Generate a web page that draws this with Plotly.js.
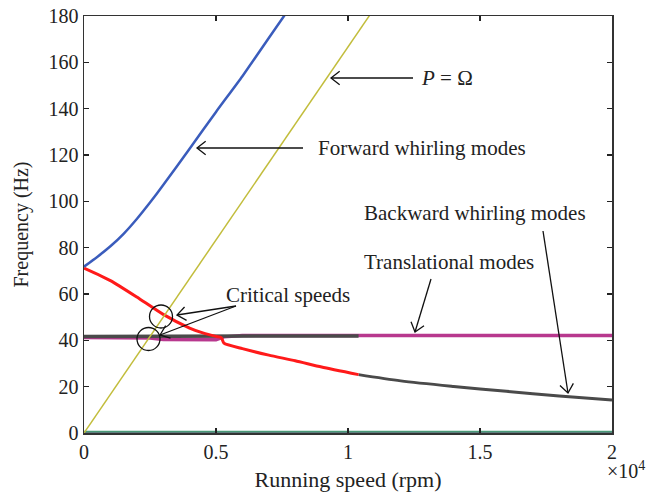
<!DOCTYPE html>
<html>
<head>
<meta charset="utf-8">
<script src="https://cdn.plot.ly/plotly-3.0.1.min.js"></script>
<style>html,body{margin:0;padding:0;background:#fff;}#chart{width:666px;height:498px;}</style>
</head>
<body>
<div id="chart"></div>
<script>
// ---- data (rpm, Hz) ----
const fwdRpm = [0, 500, 1000, 1500, 2000, 2500, 3000, 4000, 5000, 6000, 7000, 7700];
const fwdHz  = [71.8, 76.0, 80.6, 86.0, 92.4, 99.5, 107.0, 122.7, 138.6, 154.0, 170.5, 182.0];

const bwdRedRpm = [0, 1000, 2000, 3000, 4000, 4500, 5000, 5200, 5300, 6000, 7000, 8000, 9000, 10400];
const bwdRedHz  = [71.2, 65.8, 58.7, 51.2, 45.3, 43.2, 41.7, 41.2, 38.8, 36.4, 33.6, 31.2, 28.5, 25.2];

const bwdGrayRpm = [10400, 12000, 14000, 16000, 18000, 20000];
const bwdGrayHz  = [25.2, 22.5, 20.1, 18.0, 16.0, 14.2];

const transGrayRpm = [0, 5000, 6800, 7000, 7700, 7900, 10400];
const transGrayHz  = [41.7, 41.8, 41.9, 42.2, 42.2, 41.9, 41.9];

const transMagRpm = [0, 2500, 3000, 5000, 5300, 6000, 10400, 20000];
const transMagHz  = [41.2, 41.0, 40.4, 40.2, 41.5, 42.1, 42.1, 42.1];

const zeroGreenRpm = [0, 20000];
const zeroGreenHz  = [0.55, 0.55];
const zeroMagRpm = [0, 20000];
const zeroMagHz  = [0, 0];

const lineRpm = [0, 20000];
const lineHz  = [0, 333.3];   // P = Omega (rpm/60)

const xTickVals = [0, 5000, 10000, 15000, 20000];
const xTickText = ['0', '0.5', '1', '1.5', '2'];

// ---- geometry helpers ----
const W = 666, H = 498, ML = 84, MR = 54, MT = 16, MB = 65;
const PW = W - ML - MR, PH = H - MT - MB;
const XR = [0, 20000], YR = [0, 180];
const px2x = p => XR[0] + (p - ML) / PW * (XR[1] - XR[0]);
const py2y = p => YR[0] + (MT + PH - p) / PH * (YR[1] - YR[0]);

const FONT = '"Liberation Serif", "DejaVu Serif", serif';
const FS = 20;

const traces = [
  {x: zeroMagRpm, y: zeroMagHz, mode: 'lines', line: {color: '#9c3b92', width: 2.5}},
  {x: zeroGreenRpm, y: zeroGreenHz, mode: 'lines', line: {color: '#4a9a78', width: 2}},
  {x: transMagRpm, y: transMagHz, mode: 'lines', line: {color: '#b8388e', width: 3.5}},
  {x: transGrayRpm, y: transGrayHz, mode: 'lines', line: {color: '#4a4a4a', width: 3.5}},
  {x: bwdGrayRpm, y: bwdGrayHz, mode: 'lines', line: {color: '#4a4a4a', width: 3, shape: 'spline', smoothing: 0.8}},
  {x: bwdRedRpm, y: bwdRedHz, mode: 'lines', line: {color: '#ff1a1a', width: 3, shape: 'spline', smoothing: 0.6}},
  {x: fwdRpm, y: fwdHz, mode: 'lines', line: {color: '#3a5cbc', width: 2.5, shape: 'spline', smoothing: 0.5}},
  {x: lineRpm, y: lineHz, mode: 'lines', line: {color: '#c2bd3c', width: 1.5}}
];

// arrows in pixel space: [tailX, tailY, tipX, tipY]
const arrows = [
  [413, 78, 331, 78],
  [303, 148, 197, 148],
  [431, 279, 415, 332],
  [543, 231, 568, 393],
  [236, 306, 177, 315],
  [236, 306, 160, 335]
];
const shapes = [];
arrows.forEach(a => {
  const [tx, ty, hx, hy] = a;
  shapes.push({type: 'line', xref: 'x', yref: 'y', x0: px2x(tx), y0: py2y(ty), x1: px2x(hx), y1: py2y(hy),
               line: {color: '#111', width: 1.3}});
  const ang = Math.atan2(ty - hy, tx - hx);
  const L = 11, A = 38 * Math.PI / 180;
  const p1 = [hx + L * Math.cos(ang + A), hy + L * Math.sin(ang + A)];
  const p2 = [hx + L * Math.cos(ang - A), hy + L * Math.sin(ang - A)];
  shapes.push({type: 'path', xref: 'x', yref: 'y',
    path: `M${px2x(p1[0])},${py2y(p1[1])} L${px2x(hx)},${py2y(hy)} L${px2x(p2[0])},${py2y(p2[1])}`,
    line: {color: '#111', width: 1.3}});
});
// circles at critical speeds (pixel centres, radius)
const circles = [[161, 316.5, 11.5], [148.5, 339, 11.5]];
circles.forEach(c => {
  shapes.push({type: 'circle', xref: 'x', yref: 'y',
    x0: px2x(c[0] - c[2]), x1: px2x(c[0] + c[2]), y0: py2y(c[1] + c[2]), y1: py2y(c[1] - c[2]),
    line: {color: '#111', width: 1.3}});
});

const labels = [
  ['<i>P</i> = Ω', 419, 78],
  ['Forward whirling modes', 316, 148],
  ['Backward whirling modes', 362, 213],
  ['Translational modes', 362, 262],
  ['Critical speeds', 224, 295]
];
const annotations = labels.map(l => ({
  text: l[0], x: px2x(l[1]), y: py2y(l[2]), xref: 'x', yref: 'y', xanchor: 'left', yanchor: 'middle',
  showarrow: false, font: {family: FONT, size: 21, color: '#222'}
}));
annotations.push({
  text: '×10<sup>4</sup>', xref: 'paper', yref: 'paper', x: (605 - ML) / PW, y: -(470 - MT - PH) / PH,
  xanchor: 'left', yanchor: 'middle', showarrow: false, font: {family: FONT, size: FS, color: '#222'}
});

const axisCommon = {
  showgrid: false, zeroline: false, showline: true, linecolor: '#333', linewidth: 1.5,
  mirror: 'ticks', ticks: 'inside', ticklen: 5, tickwidth: 1.3, tickcolor: '#222',
  tickfont: {family: FONT, size: FS, color: '#222'}
};

const layout = {
  width: W, height: H,
  margin: {l: ML, r: MR, t: MT, b: MB},
  paper_bgcolor: '#fff', plot_bgcolor: '#fff',
  showlegend: false,
  xaxis: Object.assign({}, axisCommon, {
    range: XR, tickvals: xTickVals, ticktext: xTickText,
    title: {text: 'Running speed (rpm)', font: {family: FONT, size: 22, color: '#222'}, standoff: 10}
  }),
  yaxis: Object.assign({}, axisCommon, {
    range: YR, dtick: 20, tick0: 0,
    title: {text: 'Frequency (Hz)', font: {family: FONT, size: FS, color: '#222'}, standoff: 14}
  }),
  shapes: shapes,
  annotations: annotations
};

Plotly.newPlot('chart', traces, layout, {displayModeBar: false, staticPlot: true});
</script>
</body>
</html>
